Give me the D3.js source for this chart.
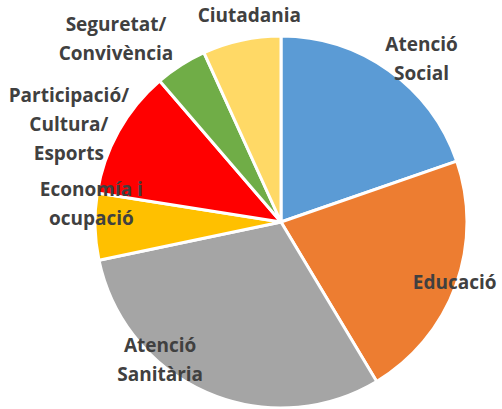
<!DOCTYPE html>
<html>
<head>
<meta charset="utf-8">
<script src="https://cdn.jsdelivr.net/npm/d3@7"></script>
<style>
  body { margin: 0; background: #fff; }
  .label { font-family: "Open Sans", Lato, sans-serif; font-weight: bold; font-size: 19px; fill: #404040; }
</style>
</head>
<body>
<div id="chart"></div>
<script>
// data (share of total, %)
var categories = ["Atenció Social", "Educació", "Atenció Sanitària", "Economía i ocupació",
                  "Participació/Cultura/Esports", "Seguretat/Convivència", "Ciutadania"];
var values = [19.7, 21.7, 30.3, 5.8, 11.2, 4.5, 6.8];
var labelLines = [["Atenció", "Social"], ["Educació"], ["Atenció", "Sanitària"], ["Economía i", "ocupació"],
                  ["Participació/", "Cultura/", "Esports"], ["Seguretat/", "Convivència"], ["Ciutadania"]];

// label placement (polar: degrees from top, distance from centre)
var labelPlace = [[42, 210], [111, 186], [220, 188], [273.5, 190], [293.3, 231], [317, 242], [351, 202]];

var width = 502, height = 409,
    cx = 281, cy = 222, radius = 186;

var color = d3.scaleOrdinal()
    .domain(categories)
    .range(["#5B9BD5", "#ED7D31", "#A5A5A5", "#FFC000", "#FF0000", "#70AD47", "#FFD966"]);

var svg = d3.select("#chart")
    .append("svg")
        .attr("width", width)
        .attr("height", height)
    .append("g")
        .attr("transform", "translate(" + cx + "," + cy + ")");

var pie = d3.pie()
    .sort(null)
    .value(function(d) { return d; });

var arc = d3.arc()
    .innerRadius(0)
    .outerRadius(radius);

var slices = pie(values);

svg.selectAll("path.slice")
    .data(slices)
    .enter().append("path")
        .attr("class", "slice")
        .attr("d", arc)
        .attr("fill", function(d, i) { return color(categories[i]); })
        .attr("stroke", "#fff")
        .attr("stroke-width", 3)
        .attr("stroke-linejoin", "round");

var lineH = 29;

var labels = svg.selectAll("text.label")
    .data(slices)
    .enter().append("text")
        .attr("class", "label")
        .attr("text-anchor", "middle")
        .attr("transform", function(d, i) {
            var p = d3.pointRadial(labelPlace[i][0] * Math.PI / 180, labelPlace[i][1]);
            return "translate(" + p[0] + "," + p[1] + ")";
        });

labels.each(function(d, i) {
    var lines = labelLines[i];
    d3.select(this).selectAll("tspan")
        .data(lines)
        .enter().append("tspan")
            .attr("x", 0)
            .attr("y", function(t, j) { return (j - (lines.length - 1) / 2) * lineH; })
            .text(function(t) { return t; });
});
</script>
</body>
</html>
